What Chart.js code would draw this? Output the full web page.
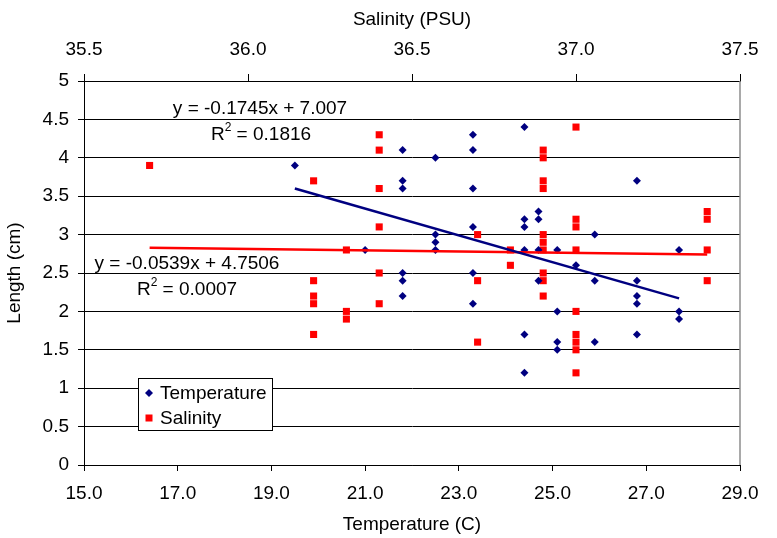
<!DOCTYPE html>
<html>
<head>
<meta charset="utf-8">
<script src="https://cdn.jsdelivr.net/npm/chart.js@4"></script>
<style>
  body { margin: 0; background: #fff; }
  canvas { display: block; }
</style>
</head>
<body>
<canvas id="chart" width="777" height="538"></canvas>
<script>
// length (cm) vs water temperature (C)
const tempX = [19.5, 21.0,
  21.8, 21.8, 21.8, 21.8, 21.8, 21.8,
  22.5, 22.5, 22.5, 22.5,
  23.3, 23.3, 23.3, 23.3, 23.3, 23.3,
  24.4, 24.4, 24.4, 24.4, 24.4, 24.4,
  24.7, 24.7, 24.7, 24.7,
  25.1, 25.1, 25.1, 25.1,
  25.5,
  25.9, 25.9, 25.9,
  26.8, 26.8, 26.8, 26.8, 26.8,
  27.7, 27.7, 27.7];
const tempLength = [3.9, 2.8,
  4.1, 3.7, 3.6, 2.5, 2.4, 2.2,
  4.0, 3.0, 2.9, 2.8,
  4.3, 4.1, 3.6, 3.1, 2.5, 2.1,
  4.4, 3.2, 3.1, 2.8, 1.7, 1.2,
  3.3, 3.2, 2.8, 2.4,
  2.8, 2.0, 1.6, 1.5,
  2.6,
  3.0, 2.4, 1.6,
  3.7, 2.4, 2.2, 2.1, 1.7,
  2.8, 2.0, 1.9];

// length (cm) vs salinity (PSU)
const salX = [35.7,
  36.2, 36.2, 36.2, 36.2, 36.2,
  36.3, 36.3, 36.3,
  36.4, 36.4, 36.4, 36.4, 36.4, 36.4,
  36.7, 36.7, 36.7,
  36.8, 36.8,
  36.9, 36.9, 36.9, 36.9, 36.9, 36.9, 36.9, 36.9, 36.9, 36.9,
  37.0, 37.0, 37.0, 37.0, 37.0, 37.0, 37.0, 37.0, 37.0,
  37.4, 37.4, 37.4, 37.4];
const salLength = [3.9,
  3.7, 2.4, 2.2, 2.1, 1.7,
  2.8, 2.0, 1.9,
  4.3, 4.1, 3.6, 3.1, 2.5, 2.1,
  3.0, 2.4, 1.6,
  2.8, 2.6,
  4.1, 4.0, 3.7, 3.6, 3.0, 2.9, 2.8, 2.5, 2.4, 2.2,
  4.4, 3.2, 3.1, 2.8, 2.0, 1.7, 1.6, 1.5, 1.2,
  3.3, 3.2, 2.8, 2.4];

// linear trendlines (end points)
const tempTrendX = [19.5, 27.7];
const tempTrendY = [3.60, 2.17];
const salTrendX = [35.7, 37.4];
const salTrendY = [2.83, 2.74];

const tempEquation = ['y = -0.1745x + 7.007', '0.1816'];
const salEquation = ['y = -0.0539x + 4.7506', '0.0007'];
const legendLabels = ['Temperature', 'Salinity'];

const NAVY = '#000080';
const RED = '#ff0000';
const FONT = '"Liberation Sans", Arial, sans-serif';

function toPoints(xs, ys) {
  return xs.map((x, i) => ({ x: x, y: ys[i] }));
}

// "R^2 = value" centred on cx, with a real superscript 2
function drawR2(ctx, value, cx, cy) {
  const rest = ' = ' + value;
  ctx.font = '19px ' + FONT;
  const wR = ctx.measureText('R').width;
  const wRest = ctx.measureText(rest).width;
  ctx.font = '12px ' + FONT;
  const w2 = ctx.measureText('2').width;
  let x = cx - (wR + w2 + wRest) / 2;
  ctx.textAlign = 'left';
  ctx.font = '19px ' + FONT;
  ctx.fillText('R', x, cy);
  x += wR;
  ctx.font = '12px ' + FONT;
  ctx.fillText('2', x, cy - 7);
  x += w2;
  ctx.font = '19px ' + FONT;
  ctx.fillText(rest, x, cy);
}

const extras = {
  id: 'extras',
  afterDraw(chart) {
    const ctx = chart.ctx;
    const area = chart.chartArea;
    ctx.save();
    // grey right edge of the plot area
    ctx.strokeStyle = '#8c8c8c';
    ctx.lineWidth = 1.5;
    ctx.beginPath();
    ctx.moveTo(area.right, area.top);
    ctx.lineTo(area.right, area.bottom);
    ctx.stroke();

    // trendline equations
    ctx.fillStyle = '#000';
    ctx.font = '19px ' + FONT;
    ctx.textAlign = 'center';
    ctx.textBaseline = 'middle';
    ctx.fillText(tempEquation[0], 260, 109);
    drawR2(ctx, tempEquation[1], 261, 135);
    ctx.textAlign = 'center';
    ctx.fillText(salEquation[0], 187, 264);
    drawR2(ctx, salEquation[1], 187, 290);

    // legend box
    ctx.fillStyle = '#fff';
    ctx.fillRect(138, 378, 134, 52);
    ctx.strokeStyle = '#000';
    ctx.lineWidth = 1;
    ctx.strokeRect(138.5, 378.5, 134, 52);
    ctx.fillStyle = NAVY;
    ctx.beginPath();
    ctx.moveTo(149, 389);
    ctx.lineTo(153, 393);
    ctx.lineTo(149, 397);
    ctx.lineTo(145, 393);
    ctx.closePath();
    ctx.fill();
    ctx.fillStyle = RED;
    ctx.fillRect(145.5, 414.5, 7, 7);
    ctx.fillStyle = '#000';
    ctx.font = '19px ' + FONT;
    ctx.textAlign = 'left';
    ctx.fillText(legendLabels[0], 160, 394);
    ctx.fillText(legendLabels[1], 160, 419);
    ctx.restore();
  }
};

new Chart(document.getElementById('chart'), {
  type: 'scatter',
  data: {
    datasets: [
      {
        label: 'Temperature trend',
        data: toPoints(tempTrendX, tempTrendY),
        xAxisID: 'x',
        showLine: true,
        borderColor: NAVY,
        borderWidth: 2.5,
        pointRadius: 0
      },
      {
        label: 'Salinity trend',
        data: toPoints(salTrendX, salTrendY),
        xAxisID: 'x2',
        showLine: true,
        borderColor: RED,
        borderWidth: 2.5,
        pointRadius: 0
      },
      {
        label: legendLabels[0],
        data: toPoints(tempX, tempLength),
        xAxisID: 'x',
        pointStyle: 'rectRot',
        pointRadius: 4,
        borderWidth: 0,
        backgroundColor: NAVY
      },
      {
        label: legendLabels[1],
        data: toPoints(salX, salLength),
        xAxisID: 'x2',
        pointStyle: 'rect',
        pointRadius: 5,
        borderWidth: 0,
        backgroundColor: RED
      }
    ]
  },
  options: {
    responsive: false,
    animation: false,
    events: [],
    layout: { padding: { right: 37 } },
    plugins: {
      legend: { display: false },
      tooltip: { enabled: false }
    },
    scales: {
      x: {
        type: 'linear',
        position: 'bottom',
        min: 15, max: 29,
        afterFit: s => { s.height = 73; },
        ticks: {
          stepSize: 2, color: '#000', padding: 11,
          font: { family: FONT, size: 19 },
          callback: v => v.toFixed(1)
        },
        grid: { drawOnChartArea: false, tickLength: 6, color: '#000' },
        border: { color: '#000', width: 1 },
        title: {
          display: true, text: 'Temperature (C)', color: '#000',
          font: { family: FONT, size: 19 }, padding: { top: 0, bottom: 2 }
        }
      },
      x2: {
        type: 'linear',
        position: 'top',
        min: 35.5, max: 37.5,
        afterFit: s => { s.height = 81; },
        ticks: {
          stepSize: 0.5, color: '#000', padding: 13,
          font: { family: FONT, size: 19 },
          callback: v => v.toFixed(1)
        },
        grid: { drawOnChartArea: false, tickLength: 7, color: '#000' },
        border: { color: '#000', width: 1 },
        title: {
          display: true, text: 'Salinity (PSU)', color: '#000',
          font: { family: FONT, size: 19 }, padding: { top: 8, bottom: 0 }
        }
      },
      y: {
        type: 'linear',
        min: 0, max: 5,
        afterFit: s => { s.width = 84; },
        ticks: {
          stepSize: 0.5, color: '#000', padding: 9,
          font: { family: FONT, size: 19 },
          callback: v => String(v)
        },
        grid: { color: '#000', lineWidth: 1, tickLength: 6 },
        border: { color: '#000', width: 1 },
        title: {
          display: true, text: 'Length (cm)', color: '#000',
          font: { family: FONT, size: 19 }, padding: { top: 3, bottom: 0 }
        }
      }
    }
  },
  plugins: [extras]
});
</script>
</body>
</html>
